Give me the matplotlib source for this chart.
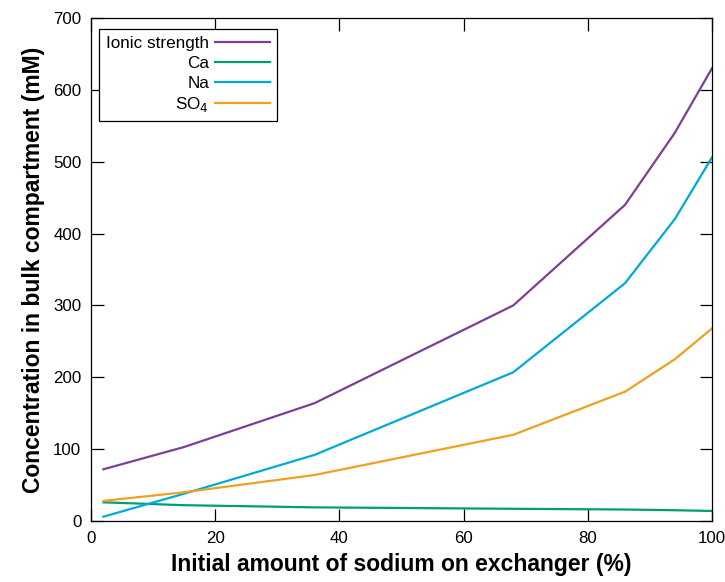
import matplotlib
matplotlib.use("Agg")
import matplotlib.pyplot as plt

plt.rcParams['font.family'] = ['Liberation Sans', 'DejaVu Sans']

sodium = [2, 15, 36, 68, 86, 94, 100]
ionic = [72, 103, 164, 300, 440, 540, 630]
ca = [26, 22, 19, 17, 16, 15, 14]
na = [6, 38, 92, 207, 331, 420, 506]
so4 = [28, 40, 64, 120, 180, 225, 268]

labels = ['Ionic strength', 'Ca', 'Na', 'SO$_4$']
colors = ['#7b3f98', '#009e73', '#00aad8', '#f0a020']

fig = plt.figure(figsize=(7.25, 5.82), dpi=100)
ax = fig.add_axes([0.1255, 0.1048, 0.8565, 0.8642])

for ys, lab, c in zip([ionic, ca, na, so4], labels, colors):
    ax.plot(sodium, ys, color=c, lw=1.6, label=lab)

ax.set_xlim(0, 100)
ax.set_ylim(0, 700)
ax.set_xticks(range(0, 101, 20))
ax.set_yticks(range(0, 701, 100))
ax.tick_params(direction='in', top=True, right=True, length=9, width=0.9,
               labelsize=12.2, pad=7)
for s in ax.spines.values():
    s.set_linewidth(0.9)

ax.set_xlabel('Initial amount of sodium on exchanger (%)', fontsize=16.5,
              fontweight='bold', labelpad=5)
ax.set_ylabel('Concentration in bulk compartment (mM)', fontsize=16.5,
              fontweight='bold', labelpad=6)

leg = ax.legend(loc='upper left', bbox_to_anchor=(0.013, 0.978), borderaxespad=0,
                markerfirst=False, fontsize=12.3, fancybox=False,
                edgecolor='black', framealpha=1, handlelength=3.2,
                handletextpad=0.35, labelspacing=0.27, borderpad=0.42)
leg.get_frame().set_linewidth(0.9)

fig.savefig('out.png', dpi=100)
